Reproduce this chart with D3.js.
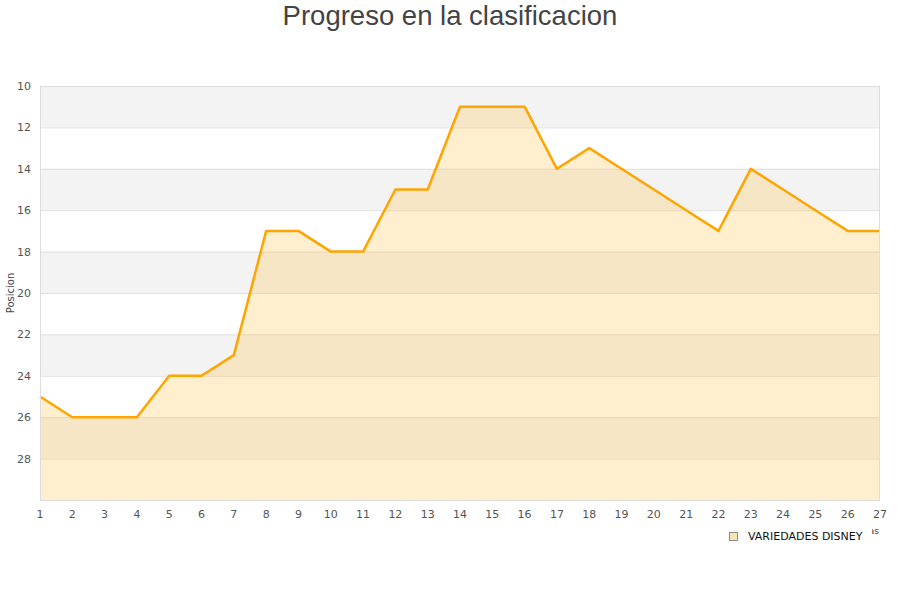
<!DOCTYPE html>
<html><head><meta charset="utf-8">
<script src="https://cdn.jsdelivr.net/npm/d3@7"></script>
<style>body{margin:0;background:#fff;}svg{display:block;font-family:"DejaVu Sans",sans-serif;}</style>
</head><body>
<svg id="c" width="900" height="600"></svg>
<script>
const jornadas = [1,2,3,4,5,6,7,8,9,10,11,12,13,14,15,16,17,18,19,20,21,22,23,24,25,26,27];
const posicion = [25,26,26,26,24,24,23,17,17,18,18,15,15,11,11,11,14,13,14,15,16,17,14,15,16,17,17];
const yTicks = [10,12,14,16,18,20,22,24,26,28];
const seriesName = "VARIEDADES DISNEY";
const title = "Progreso en la clasificacion";

const svg = d3.select("#c");
const L=40,R=880,T=86,B=500;
const x = d3.scaleLinear().domain([1,27]).range([L,R]);
const y = d3.scaleLinear().domain([10,30]).range([T,B]);

// bands
const bands = d3.range(10,30,2);
svg.selectAll("rect.band").data(bands).enter().append("rect")
  .attr("x",L).attr("width",R-L)
  .attr("y",d=>y(d)).attr("height",d=>y(d+2)-y(d))
  .attr("fill",(d,i)=>i%2===0?"#f3f3f3":"#ffffff");
// grid
svg.selectAll("line.grid").data(yTicks).enter().append("line")
  .attr("x1",L).attr("x2",R).attr("y1",d=>y(d)+0.5).attr("y2",d=>y(d)+0.5)
  .attr("stroke","#e0e0e0");

// area
const area = d3.area().x((d,i)=>x(jornadas[i])).y0(y(30)).y1(d=>y(d));
svg.append("path").datum(posicion).attr("d",area)
  .attr("fill","rgba(255,190,60,0.25)");
const line = d3.line().x((d,i)=>x(jornadas[i])).y(d=>y(d));
svg.append("path").datum(posicion).attr("d",line)
  .attr("fill","none").attr("stroke","#ffa500").attr("stroke-width",2.5).attr("stroke-linejoin","round");

// frame
svg.append("rect").attr("x",L+0.5).attr("y",T+0.5).attr("width",R-L-1).attr("height",B-T)
  .attr("fill","none").attr("stroke","#dddddd");

// y labels
svg.selectAll("text.yt").data(yTicks).enter().append("text")
  .attr("x",31).attr("y",d=>y(d)+4).attr("text-anchor","end")
  .attr("font-size",11).attr("fill","#555").text(d=>d);
// x labels
svg.selectAll("text.xt").data(jornadas).enter().append("text")
  .attr("x",d=>x(d)).attr("y",518).attr("text-anchor","middle")
  .attr("font-size",11).attr("fill","#555").text(d=>d);

// axis titles
svg.append("text").attr("transform","translate(14,293) rotate(-90)")
  .attr("text-anchor","middle").attr("font-size",10).attr("fill","#444").text("Posicion");
svg.append("text").attr("x",879).attr("y",534).attr("text-anchor","end")
  .attr("font-size",9).attr("fill","#444").text("Jornadas");

// legend
const lg = svg.append("g");
lg.append("rect").attr("x",724).attr("y",522).attr("width",148).attr("height",24).attr("fill","#fff");
lg.append("rect").attr("x",729.5).attr("y",532.5).attr("width",8).attr("height",8)
  .attr("fill","#fbe3b8").attr("stroke","#777").attr("stroke-width",0.8);
lg.append("text").attr("x",748).attr("y",540).attr("font-size",11).attr("fill","#111").text(seriesName);

// title
svg.append("text").attr("x",450).attr("y",25).attr("text-anchor","middle")
  .attr("font-family","'Liberation Sans',Arial,sans-serif")
  .attr("font-size",27.5).attr("fill","#444").text(title);
</script>
</body></html>
